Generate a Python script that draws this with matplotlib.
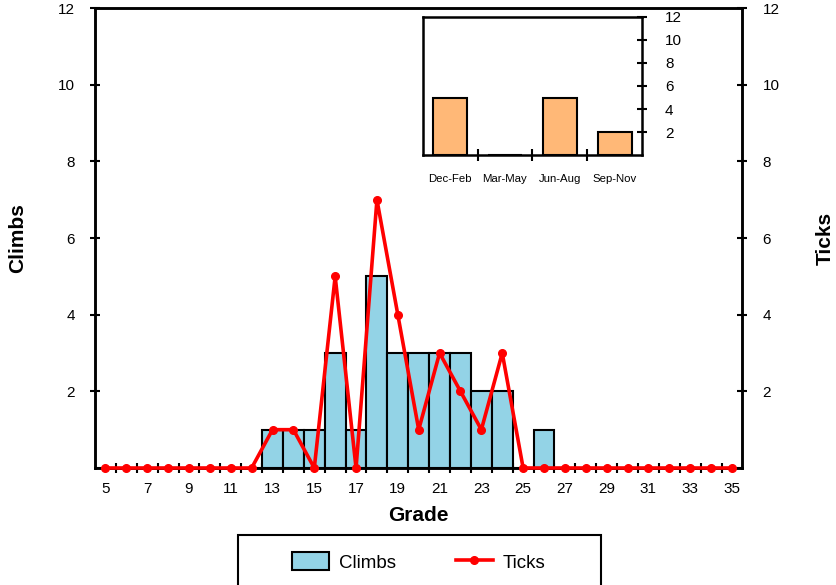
import matplotlib
matplotlib.use("Agg")
import matplotlib.pyplot as plt
import numpy as np
from matplotlib.patches import Patch, Rectangle
from matplotlib.lines import Line2D

plt.rcParams['font.family'] = ['Liberation Sans', 'DejaVu Sans']

grades = list(range(5, 36))
climbs = [0, 0, 0, 0, 0, 0, 0, 0, 1, 1, 1, 3, 1, 5, 3, 3, 3, 3, 2, 2, 0, 1,
          0, 0, 0, 0, 0, 0, 0, 0, 0]
ticks = [0, 0, 0, 0, 0, 0, 0, 0, 1, 1, 0, 5, 0, 7, 4, 1, 3, 2, 1, 3, 0, 0,
         0, 0, 0, 0, 0, 0, 0, 0, 0]
seasons = ['Dec-Feb', 'Mar-May', 'Jun-Aug', 'Sep-Nov']
season_counts = [5, 0, 5, 2]

bar_color = '#93D3E6'
orange = '#FFB877'

fig = plt.figure(figsize=(8.37, 5.85), dpi=100)
ax = fig.add_axes([0.1135, 0.2, 0.7735, 0.786])
x = np.arange(len(grades))
ax.bar(x, climbs, width=1.0, color=bar_color, edgecolor='black', linewidth=1.5, zorder=2)
ax.set_xlim(-0.5, len(grades) - 0.5)
ax.set_ylim(0, 12)
ax.set_yticks([2, 4, 6, 8, 10, 12])
ax.set_xticks(x[::2])
ax.set_xticklabels([str(g) for g in grades[::2]], fontsize=11)
ax.set_xticks(np.arange(0.5, len(grades) - 1, 1.0), minor=True)
ax.tick_params(axis='x', which='major', length=0, pad=10)
ax.tick_params(axis='x', which='minor', length=7, width=1.5, direction='inout')
ax.tick_params(axis='y', length=7, width=1.5, direction='inout', labelsize=11, pad=11)
for s in ax.spines.values():
    s.set_linewidth(1.8)
ax.set_xlabel('Grade', fontsize=15, fontweight='bold', labelpad=7)
ax.set_ylabel('Climbs', fontsize=15, fontweight='bold', labelpad=22)

ax2 = ax.twinx()
ax2.plot(x, ticks, color='#FF0000', linewidth=2.6, marker='o', markersize=5.5,
         clip_on=False, zorder=3)
ax2.set_ylim(0, 12)
ax2.set_yticks([2, 4, 6, 8, 10, 12])
ax2.tick_params(axis='y', length=7, width=1.5, direction='inout', labelsize=11, pad=11)
for s in ax2.spines.values():
    s.set_linewidth(1.8)
ax2.set_ylabel('Ticks', fontsize=15, fontweight='bold', labelpad=26)

# Inset
axi = fig.add_axes([0.505, 0.735, 0.262, 0.236])
xi = np.arange(len(seasons))
axi.bar(xi, season_counts, width=0.62, color=orange, edgecolor='black', linewidth=1.5)
axi.set_xlim(-0.5, len(seasons) - 0.5)
axi.set_ylim(0, 12)
axi.yaxis.tick_right()
axi.set_yticks([2, 4, 6, 8, 10, 12])
axi.tick_params(axis='y', length=7, width=1.5, direction='inout', labelsize=11, pad=13)
axi.set_xticks(xi)
axi.set_xticklabels(seasons, fontsize=8.2)
axi.tick_params(axis='x', which='major', length=0, pad=14)
axi.set_xticks(np.arange(0.5, len(seasons) - 1, 1.0), minor=True)
axi.tick_params(axis='x', which='minor', length=8, width=1.5, direction='inout')
for s in axi.spines.values():
    s.set_linewidth(1.8)
axi.set_facecolor('white')

# Legend (frame drawn separately for Excel-like wide padding)
frame = Rectangle((238 / 837, -0.01), (601 - 238) / 837, 0.01 + (585 - 535) / 585,
                  transform=fig.transFigure, facecolor='white', edgecolor='black',
                  linewidth=1.5, zorder=5)
fig.patches.append(frame)
handles = [Patch(facecolor=bar_color, edgecolor='black', linewidth=1.5),
           Line2D([], [], color='#FF0000', linewidth=2.6, marker='o', markersize=5.5)]
leg = fig.legend(handles, ['Climbs', 'Ticks'], loc='center',
                 bbox_to_anchor=(0.500, 1 - 562 / 585), ncol=2, fontsize=13.5,
                 frameon=False, columnspacing=3.2, handlelength=2.0,
                 handleheight=1.1, handletextpad=0.5, borderaxespad=0)
leg.set_zorder(6)

fig.savefig('out.png', dpi=100)
